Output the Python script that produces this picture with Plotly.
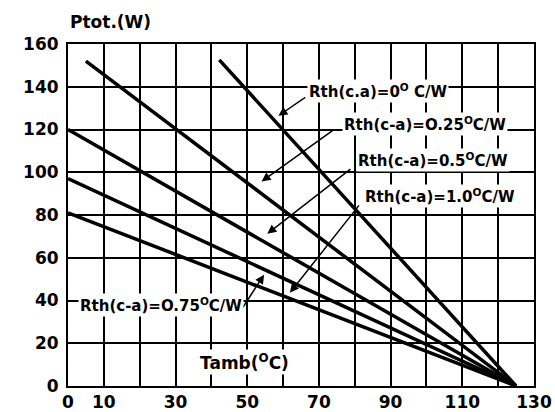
import plotly.graph_objects as go

# Data
rth_labels = ["0", "0.25", "0.5", "0.75", "1.0"]
start_tamb = [42.2, 5.0, 0.0, 0.0, 0.0]
start_ptot = [152.6, 152.0, 120.0, 97.0, 81.0]
end_tamb = [125.0, 125.0, 125.0, 125.0, 125.0]
end_ptot = [0.0, 0.0, 0.0, 0.0, 0.0]

x_tickvals = [0, 10, 20, 30, 40, 50, 60, 70, 80, 90, 100, 110, 120, 130]
x_ticktext = ["0", "10", "", "30", "", "50", "", "70", "", "90", "", "110", "", "130"]
y_tickvals = [0, 20, 40, 60, 80, 100, 120, 140, 160]
y_ticktext = ["0", "20", "40", "60", "80", "100", "120", "140", "160"]

FONT = "DejaVu Sans"

fig = go.Figure()
for i, r in enumerate(rth_labels):
    fig.add_trace(go.Scatter(
        x=[start_tamb[i], end_tamb[i]],
        y=[start_ptot[i], end_ptot[i]],
        mode="lines",
        line=dict(color="black", width=3.5),
        name="Rth(c-a)=" + r,
        showlegend=False,
        hoverinfo="skip",
        cliponaxis=False,
    ))

lab_font = dict(family=FONT, size=15, color="black", weight="bold")

labels = [
    ("Rth(c.a)=0<sup>O</sup> C/W", 86.6, 137.8, 66.6, 135.5, 58.7, 126.4),
    ("Rth(c-a)=O.25<sup>O</sup>C/W", 99.6, 122.7, 74.5, 120.3, 54.0, 95.7),
    ("Rth(c-a)=0.5<sup>O</sup>C/W", 101.7, 105.9, 79.2, 102.0, 55.6, 71.2),
    ("Rth(c-a)=1.0<sup>O</sup>C/W", 103.8, 89.1, 81.5, 85.2, 61.9, 43.6),
    ("Rth(c-a)=O.75<sup>O</sup>C/W", 25.9, 38.1, 48.4, 35.8, 54.7, 52.1),
]
for text, tx, ty, ax, ay, hx, hy in labels:
    fig.add_annotation(x=hx, y=hy, ax=ax, ay=ay, xref="x", yref="y",
                       axref="x", ayref="y", text="", showarrow=True,
                       arrowhead=2, arrowsize=1.2, arrowwidth=1.5,
                       arrowcolor="black", standoff=0, startstandoff=0)
    fig.add_annotation(x=tx, y=ty, xref="x", yref="y", text=text,
                       showarrow=False, font=lab_font, bgcolor="white",
                       borderpad=1)

fig.add_annotation(x=49.1, y=11, xref="x", yref="y", text="Tamb(<sup>O</sup>C)",
                   showarrow=False, font=dict(family=FONT, size=17, color="black", weight="bold"),
                   bgcolor="white", borderpad=1)

fig.add_annotation(x=0, y=1.064, xref="paper", yref="paper", text="Ptot.(W)",
                   xanchor="left", yanchor="middle", showarrow=False,
                   font=dict(family=FONT, size=17, color="black", weight="bold"))

fig.update_layout(
    width=555, height=412,
    margin=dict(l=68, r=21, t=44, b=26, autoexpand=False),
    paper_bgcolor="white", plot_bgcolor="white",
    xaxis=dict(range=[0, 130], tickvals=x_tickvals, ticktext=x_ticktext,
               showgrid=True, gridcolor="black", gridwidth=2,
               showline=True, linecolor="black", linewidth=2, mirror=True,
               zeroline=False, ticks="", ticklabelstandoff=0, automargin=False,
               tickfont=dict(family=FONT, size=17, color="black", weight="bold")),
    yaxis=dict(range=[0, 160], tickvals=y_tickvals, ticktext=y_ticktext,
               showgrid=True, gridcolor="black", gridwidth=2,
               showline=True, linecolor="black", linewidth=2, mirror=True,
               zeroline=True, zerolinecolor="black", zerolinewidth=3,
               ticks="", ticklabelstandoff=4, automargin=False,
               tickfont=dict(family=FONT, size=17, color="black", weight="bold")),
)

fig.write_html("out.html", config={"displayModeBar": False},
               post_script="document.body.style.margin='0';document.body.style.padding='0';")
